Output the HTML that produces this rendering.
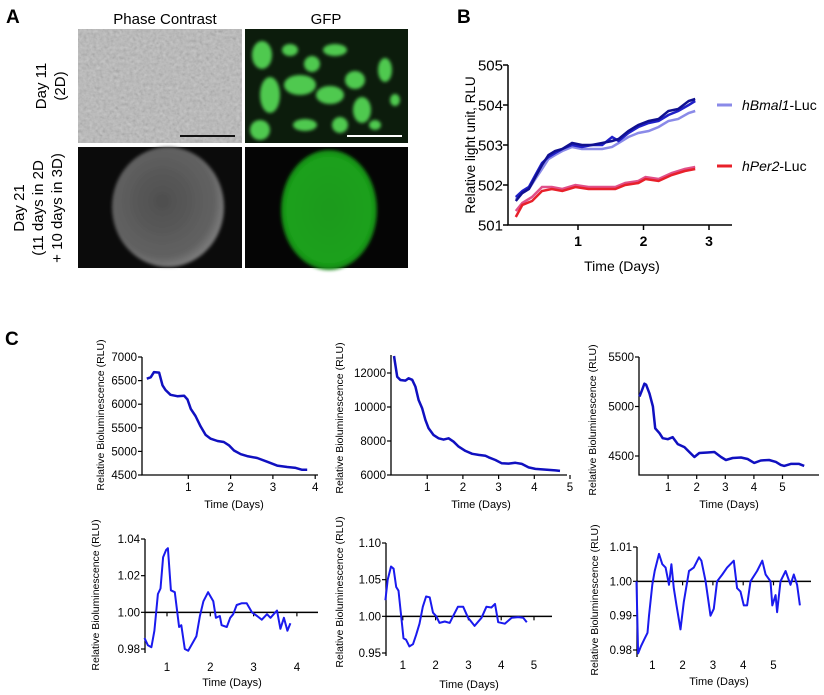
<!DOCTYPE html>
<html><head><meta charset="utf-8"><style>
html,body{margin:0;padding:0;background:#fff;}
svg{display:block;font-family:"Liberation Sans",Arial,sans-serif;}
</style></head><body>
<svg id="fig" width="824" height="695" viewBox="0 0 824 695" xmlns="http://www.w3.org/2000/svg">
<defs>
<filter id="noise" x="0" y="0" width="100%" height="100%"><feTurbulence type="fractalNoise" baseFrequency="0.3" numOctaves="2" seed="4"/><feColorMatrix type="matrix" values="0.33 0.33 0.33 0 0  0.33 0.33 0.33 0 0  0.33 0.33 0.33 0 0  0 0 0 0 1"/></filter>
<filter id="blur2"><feGaussianBlur stdDeviation="1.5"/></filter>
<radialGradient id="sph" cx="45%" cy="45%" r="55%"><stop offset="0" stop-color="#4e4e4e"/><stop offset="0.85" stop-color="#626262"/><stop offset="1" stop-color="#7a7a7a"/></radialGradient>
<radialGradient id="gsph" cx="50%" cy="50%" r="55%"><stop offset="0" stop-color="#1f9a1f"/><stop offset="0.8" stop-color="#1aa11a"/><stop offset="1" stop-color="#0c6a0c"/></radialGradient>
</defs>
<g>
<text x="6" y="23" font-size="19" font-weight="bold">A</text>
<text x="165" y="24" font-size="15" text-anchor="middle">Phase Contrast</text>
<text x="326" y="24" font-size="15" text-anchor="middle">GFP</text>
<g font-size="15" text-anchor="middle">
<text transform="translate(46,86) rotate(-90)">Day 11</text>
<text transform="translate(65,86) rotate(-90)">(2D)</text></g>
<g font-size="15" text-anchor="middle">
<text transform="translate(24,208) rotate(-90)">Day 21</text>
<text transform="translate(43,208) rotate(-90)">(11 days in 2D</text>
<text transform="translate(62,208) rotate(-90)">+ 10 days in 3D)</text></g>
<g>
<rect x="78" y="29" width="164" height="114" fill="#b9b9b9"/>
<rect x="78" y="29" width="164" height="114" filter="url(#noise)" opacity="0.35"/>
<rect x="180" y="135" width="55" height="2" fill="#111"/></g>
<g>
<rect x="245" y="29" width="163" height="114" fill="#0c1c0c"/>
<g fill="#4fc94f" filter="url(#blur2)">
<ellipse cx="262" cy="55" rx="10" ry="14"/><ellipse cx="290" cy="50" rx="8" ry="6"/><ellipse cx="312" cy="64" rx="8" ry="8"/>
<ellipse cx="335" cy="50" rx="12" ry="6"/><ellipse cx="300" cy="85" rx="16" ry="10"/><ellipse cx="270" cy="95" rx="10" ry="18"/>
<ellipse cx="330" cy="95" rx="14" ry="9"/><ellipse cx="355" cy="80" rx="10" ry="9"/><ellipse cx="362" cy="110" rx="9" ry="13"/>
<ellipse cx="385" cy="70" rx="7" ry="12"/><ellipse cx="395" cy="100" rx="5" ry="6"/><ellipse cx="260" cy="130" rx="10" ry="10"/>
<ellipse cx="305" cy="125" rx="12" ry="6"/><ellipse cx="340" cy="125" rx="8" ry="8"/><ellipse cx="375" cy="125" rx="6" ry="5"/></g>
<rect x="347" y="135" width="55" height="2" fill="#fff"/></g>
<g>
<rect x="78" y="147" width="164" height="121" fill="#0b0b0b"/>
<ellipse cx="168" cy="207" rx="56" ry="60" fill="url(#sph)" filter="url(#blur2)"/></g>
<g>
<rect x="245" y="147" width="163" height="121" fill="#050505"/>
<ellipse cx="329" cy="210" rx="48" ry="60" fill="url(#gsph)" filter="url(#blur2)"/></g>
</g>
<g id="plots"></g>
</svg>
<script>
// Panel B data
const bDays = [0.05,0.15,0.25,0.35,0.45,0.55,0.65,0.76,0.91,1.06,1.21,1.37,1.52,1.62,1.77,1.92,2.08,2.23,2.38,2.53,2.69,2.79];
const bmalDark = [501.6,501.8,501.9,502.2,502.5,502.75,502.85,502.9,503.05,503.0,503.0,503.05,503.1,503.15,503.35,503.5,503.6,503.65,503.85,503.9,504.1,504.15];
const bmalMid = [501.7,501.85,501.95,502.25,502.55,502.7,502.8,502.9,503.0,502.95,503.0,503.0,503.2,503.1,503.3,503.45,503.55,503.6,503.75,503.85,504.0,504.1];
const bmalLight = [501.65,501.8,501.9,502.15,502.4,502.65,502.75,502.85,502.95,502.9,502.9,502.9,502.95,503.05,503.2,503.3,503.35,503.45,503.6,503.65,503.8,503.85];
const perDays = [0.05,0.15,0.3,0.45,0.6,0.76,0.96,1.16,1.37,1.57,1.72,1.92,2.03,2.23,2.43,2.63,2.79];
const perRed = [501.2,501.5,501.6,501.85,501.9,501.85,501.95,501.9,501.9,501.9,502.0,502.05,502.15,502.1,502.25,502.35,502.4];
const perPink = [501.35,501.55,501.7,501.95,501.95,501.9,502.0,501.95,501.95,501.95,502.05,502.1,502.2,502.15,502.3,502.4,502.45];
const bYTicks = [501,502,503,504,505];
const bXTicks = [1,2,3];
// Panel C data
const c1Days = [0.02,0.11,0.19,0.31,0.39,0.46,0.58,0.74,0.9,0.98,1.06,1.17,1.29,1.41,1.53,1.69,1.84,1.96,2.08,2.24,2.39,2.63,2.87,3.1,3.34,3.54,3.69,3.81];
const c1Vals = [6540,6570,6680,6670,6400,6300,6200,6170,6180,6100,5900,5750,5530,5350,5270,5220,5200,5130,5020,4940,4900,4860,4780,4700,4670,4650,4610,4610];
const c2Days = [0.07,0.16,0.25,0.39,0.48,0.58,0.67,0.76,0.86,0.95,1.04,1.18,1.32,1.46,1.6,1.74,1.88,2.07,2.26,2.44,2.63,2.72,2.91,3.09,3.28,3.47,3.65,3.84,4.03,4.31,4.59,4.72];
const c2Vals = [13000,11780,11590,11550,11690,11600,11200,10410,9920,9240,8750,8350,8160,8080,8160,7960,7670,7420,7250,7180,7130,7040,6880,6690,6670,6720,6650,6450,6360,6320,6270,6240];
const c3Days = [0,0.08,0.17,0.23,0.35,0.47,0.55,0.7,0.81,0.99,1.16,1.34,1.57,1.74,1.92,2.09,2.38,2.62,2.85,3.02,3.26,3.55,3.78,4.01,4.24,4.53,4.77,4.94,5.06,5.29,5.58,5.76];
const c3Vals = [5100,5160,5230,5220,5130,5000,4780,4730,4680,4670,4690,4620,4590,4540,4490,4530,4535,4540,4490,4460,4480,4485,4470,4430,4455,4460,4440,4410,4400,4420,4420,4400];
const c4Days = [0.48,0.56,0.64,0.71,0.79,0.85,0.91,0.98,1.02,1.09,1.18,1.28,1.33,1.41,1.49,1.68,1.76,1.84,1.95,2.07,2.13,2.22,2.26,2.38,2.46,2.53,2.61,2.73,2.84,2.96,3.08,3.19,3.31,3.39,3.54,3.62,3.7,3.78,3.85];
const c4Vals = [0.986,0.982,0.981,0.990,1.01,1.013,1.03,1.034,1.035,1.012,1.011,0.992,0.993,0.98,0.979,0.987,0.998,1.006,1.011,1.006,0.997,0.998,0.993,0.992,0.997,0.999,1.004,1.005,1.005,1.0,0.998,0.996,0.999,0.997,1.001,0.991,0.997,0.99,0.994];
const c5Days = [0.47,0.54,0.64,0.72,0.8,0.87,0.95,1.02,1.1,1.2,1.31,1.41,1.51,1.61,1.71,1.82,1.92,2.02,2.12,2.28,2.43,2.53,2.68,2.84,2.99,3.19,3.4,3.55,3.7,3.81,3.91,4.11,4.32,4.52,4.67,4.78];
const c5Vals = [1.022,1.05,1.068,1.065,1.04,1.035,1.0,0.97,0.968,0.959,0.962,0.975,0.99,1.013,1.027,1.026,1.005,1.0,0.991,0.993,0.991,1.0,1.013,1.013,0.998,0.987,0.998,1.013,1.012,1.017,0.992,0.99,0.998,0.999,0.998,0.992];
const c6Days = [0.48,0.53,0.62,0.73,0.84,0.89,1.0,1.08,1.22,1.33,1.44,1.55,1.63,1.71,1.8,1.93,2.04,2.21,2.37,2.54,2.62,2.76,2.92,3.03,3.14,3.31,3.47,3.69,3.8,3.91,4.02,4.13,4.24,4.46,4.63,4.74,4.9,4.96,5.07,5.12,5.23,5.4,5.56,5.67,5.78,5.87];
const c6Vals = [1.0,0.979,0.981,0.983,0.985,0.99,0.999,1.003,1.008,1.005,1.004,0.999,1.005,0.998,0.993,0.986,0.994,1.003,1.004,1.007,1.006,1.0,0.99,0.992,1.0,1.002,1.004,1.006,0.998,0.997,0.993,0.993,1.0,1.003,1.006,1.002,1.0,0.993,0.996,0.991,1.0,1.003,0.999,1.002,0.999,0.993];
const c1YTicks=[4500,5000,5500,6000,6500,7000], c1XTicks=[1,2,3,4];
const c2YTicks=[6000,8000,10000,12000], c2XTicks=[1,2,3,4,5];
const c3YTicks=[4500,5000,5500], c3XTicks=[1,2,3,4,5];
const c4YTicks=[0.98,1.00,1.02,1.04], c4XTicks=[1,2,3,4];
const c5YTicks=[0.95,1.00,1.05,1.10], c5XTicks=[1,2,3,4,5];
const c6YTicks=[0.98,0.99,1.00,1.01], c6XTicks=[1,2,3,4,5];

const NS='http://www.w3.org/2000/svg';
const root=document.getElementById('plots');
function mk(tag,attrs,parent){const e=document.createElementNS(NS,tag);for(const k in attrs)e.setAttribute(k,attrs[k]);(parent||root).appendChild(e);return e;}
function lin(d0,d1,r0,r1){return v=>r0+(v-d0)*(r1-r0)/(d1-d0);}
function path(xs,ys,sx,sy){return xs.map((d,i)=>(i?'L':'M')+sx(d).toFixed(1)+','+sy(ys[i]).toFixed(1)).join(' ');}

// Panel B
(function(){
  const g=mk('g',{});
  
  
  const sx=lin(0,1,512.5,578), sy=lin(501,505,225,65);
  const lbl=mk('text',{x:457,y:23,'font-size':19,'font-weight':'bold'},g);lbl.textContent='B';
  
  
  const ax=mk('path',{d:'M508,65 V225 H732',stroke:'#000','stroke-width':1.5,fill:'none'},g);
  
  
  bYTicks.forEach(t=>{const y=sy(t);mk('line',{x1:503,x2:508,y1:y,y2:y,stroke:'#000','stroke-width':1.5},g);
    const tx=mk('text',{x:503,y:y+5.5,'font-size':15,'text-anchor':'end'},g);tx.textContent=t;
    
    });
  bXTicks.forEach(t=>{const x=sx(t);mk('line',{x1:x,x2:x,y1:225,y2:230,stroke:'#000','stroke-width':1.5},g);
    const tx=mk('text',{x:x,y:246,'font-size':14,'font-weight':'bold','text-anchor':'middle'},g);tx.textContent=t;
    
    });
  const yt=mk('text',{transform:'translate(475,145) rotate(-90)','font-size':13.5,'text-anchor':'middle'},g);yt.textContent='Relative light unit, RLU';
  
  
  const xt=mk('text',{x:622,y:271,'font-size':14,'text-anchor':'middle'},g);xt.textContent='Time (Days)';
  
  
  [[perPink,'#e0508a','hper2-pink'],[perRed,'#e8202a','hper2-red']].forEach(s=>{
    const p=mk('path',{d:path(perDays,s[0],sx,sy),stroke:s[1],'stroke-width':2.5,fill:'none'},g);
    
    });
  [[bmalLight,'#8a8ae8','hbmal1-light'],[bmalMid,'#2020c8','hbmal1-mid'],[bmalDark,'#101090','hbmal1-dark']].forEach(s=>{
    const p=mk('path',{d:path(bDays,s[0],sx,sy),stroke:s[1],'stroke-width':2.5,fill:'none'},g);
    
    });
  const l1=mk('g',{},g);
  
  
  mk('line',{x1:717,x2:732,y1:105,y2:105,stroke:'#8a8ae8','stroke-width':3},l1);
  const t1=mk('text',{x:742,y:110,'font-size':14},l1);t1.innerHTML='<tspan font-style="italic">hBmal1</tspan>-Luc';
  const l2=mk('g',{},g);
  
  
  mk('line',{x1:717,x2:732,y1:166,y2:166,stroke:'#e8202a','stroke-width':3},l2);
  const t2=mk('text',{x:742,y:171,'font-size':14},l2);t2.innerHTML='<tspan font-style="italic">hPer2</tspan>-Luc';
})();

const cl=mk('text',{x:5,y:345,'font-size':19,'font-weight':'bold'});cl.textContent='C';



function cChart(o){
  const g=mk('g',{});
  
  
  const sx=lin(0,1,o.x0,o.x0+o.dpx);
  const sy=lin(o.yt[0],o.yt[1],o.yp[0],o.yp[1]);
  const ax=mk('path',{d:`M${o.ax},${o.atop} V${o.abot}`+(o.norm?'':` H${o.aright}`),stroke:'#000','stroke-width':1.3,fill:'none'},g);
  
  
  o.yticks.forEach(t=>{const y=sy(t);mk('line',{x1:o.ax-4,x2:o.ax,y1:y,y2:y,stroke:'#000','stroke-width':1.2},g);
    const tx=mk('text',{x:o.ax-5,y:y+4,'font-size':11.5,'text-anchor':'end'},g);
    tx.textContent=o.norm?t.toFixed(2):t;
    
    });
  const by=o.norm?sy(1):o.abot;
  if(o.norm){const bl=mk('line',{x1:o.ax,x2:o.aright,y1:by,y2:by,stroke:'#000','stroke-width':1.5},g);
    
    }
  o.xticks.forEach(t=>{const x=sx(t);mk('line',{x1:x,x2:x,y1:by,y2:by+4,stroke:'#000','stroke-width':1.2},g);
    const tx=mk('text',{x:x,y:o.xly,'font-size':11.5,'text-anchor':'middle'},g);tx.textContent=t;
    
    });
  const xt=mk('text',{x:o.xtx,y:o.xty,'font-size':11,'text-anchor':'middle'},g);xt.textContent='Time (Days)';
  
  
  const yt=mk('text',{transform:`translate(${o.ytx},${o.yty}) rotate(-90)`,'font-size':10.5,'text-anchor':'middle'},g);yt.textContent='Relative Bioluminescence (RLU)';
  
  
  const p=mk('path',{d:path(o.days,o.vals,sx,sy),stroke:o.norm?'#1a1aee':'#1010c0','stroke-width':o.norm?2:2.5,fill:'none','stroke-linejoin':'round'},g);
  
  
}
cChart({name:'chart-c1-raw',days:c1Days,vals:c1Vals,yticks:c1YTicks,xticks:c1XTicks,x0:146,dpx:42.3,yt:[4500,7000],yp:[475,357],ax:142,atop:357,abot:475,aright:318,xly:491,xtx:234,xty:508,ytx:104,yty:415});
cChart({name:'chart-c2-raw',days:c2Days,vals:c2Vals,yticks:c2YTicks,xticks:c2XTicks,x0:391.5,dpx:35.7,yt:[6000,12000],yp:[475,373],ax:391,atop:355,abot:475,aright:567,xly:491,xtx:481,xty:508,ytx:343,yty:418});
cChart({name:'chart-c3-raw',days:c3Days,vals:c3Vals,yticks:c3YTicks,xticks:c3XTicks,x0:639.5,dpx:28.6,yt:[4500,5500],yp:[456,357],ax:639,atop:357,abot:475,aright:819,xly:491,xtx:729,xty:508,ytx:596,yty:420});
cChart({norm:true,name:'chart-c4-norm',days:c4Days,vals:c4Vals,yticks:c4YTicks,xticks:c4XTicks,x0:123.7,dpx:43.3,yt:[0.98,1.04],yp:[649,539],ax:145,atop:539,abot:653,aright:318,xly:671,xtx:232,xty:686,ytx:99,yty:595});
cChart({norm:true,name:'chart-c5-norm',days:c5Days,vals:c5Vals,yticks:c5YTicks,xticks:c5XTicks,x0:370,dpx:32.8,yt:[0.95,1.10],yp:[653,543],ax:386,atop:543,abot:656,aright:552,xly:669,xtx:469,xty:688,ytx:343,yty:592});
cChart({norm:true,name:'chart-c6-norm',days:c6Days,vals:c6Vals,yticks:c6YTicks,xticks:c6XTicks,x0:622,dpx:30.3,yt:[0.98,1.01],yp:[650,547],ax:637,atop:547,abot:657,aright:811,xly:669,xtx:719,xty:685,ytx:598,yty:600});
</script>
</body></html>
